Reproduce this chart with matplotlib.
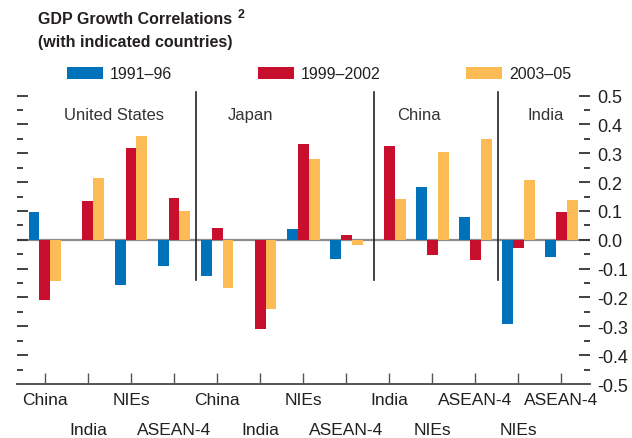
import numpy as np
import matplotlib.pyplot as plt

# GDP growth correlations, three periods, 13 country pairs
labels = ["China", "India", "NIEs", "ASEAN-4",
          "China", "India", "NIEs", "ASEAN-4",
          "India", "NIEs", "ASEAN-4",
          "NIEs", "ASEAN-4"]
periods = ["1991\u201396", "1999\u20132002", "2003\u201305"]
p1991 = [0.095, 0.0, -0.157, -0.091,
         -0.126, 0.0, 0.037, -0.067,
         0.0, 0.183, 0.079,
         -0.293, -0.060]
p1999 = [-0.209, 0.134, 0.318, 0.145,
         0.040, -0.310, 0.332, 0.016,
         0.325, -0.053, -0.071,
         -0.029, 0.096]
p2003 = [-0.143, 0.214, 0.360, 0.100,
         -0.168, -0.240, 0.280, -0.017,
         0.141, 0.304, 0.350,
         0.207, 0.138]
regions = ["United States", "Japan", "China", "India"]
region_x = [1.60, 4.77, 8.70, 11.63]
dividers = [3.5, 7.65, 10.53]
yticks = [-0.5, -0.4, -0.3, -0.2, -0.1, 0.0, 0.1, 0.2, 0.3, 0.4, 0.5]

colors = ["#0072bc", "#c8102e", "#fdbb55"]
plt.rcParams["font.family"] = ["Liberation Sans", "DejaVu Sans"]
txt = "#231f20"

fig = plt.figure(figsize=(6.32, 4.39), dpi=100)
ax = fig.add_axes([0.0269, 0.123, 0.9066, 0.672])

x = np.arange(len(labels))
w = 0.255
for i, (vals, c, name) in enumerate(zip([p1991, p1999, p2003], colors, periods)):
    ax.bar(x + (i - 1) * w, vals, w, color=c, label=name, zorder=2)

ax.axhline(0, color="#8c8c8c", lw=1.6, zorder=1)
for d in dividers:
    ax.plot([d, d], [-0.14, 0.513], color="#222222", lw=1.2, zorder=3)

for name, rx in zip(regions, region_x):
    ax.text(rx, 0.433, name, ha="center", va="center", fontsize=12,
            color="#333333")

ax.set_xlim(-0.65, 12.67)
ax.set_ylim(-0.5, 0.523)

# two rows of category labels: even ones on major ticks, odd ones on minor
ax.set_xticks(x[::2])
ax.set_xticklabels(labels[::2], fontsize=12.5, color=txt)
ax.set_xticks(x[1::2], minor=True)
ax.set_xticklabels(labels[1::2], minor=True, fontsize=12.5, color=txt)
ax.tick_params(axis="x", which="major", direction="in", length=8, width=1,
               color="#555555", pad=6)
ax.tick_params(axis="x", which="minor", direction="in", length=8, width=1,
               color="#555555", pad=27.5)

ax.set_yticks(yticks)
ax.set_yticks(np.arange(-0.45, 0.5, 0.1), minor=True)
ax.tick_params(axis="y", which="major", direction="in", length=8, width=1.3,
               color="#333333", left=True, right=True, labelleft=False,
               labelright=True, labelsize=13, labelcolor=txt, pad=5)
ax.tick_params(axis="y", which="minor", direction="in", length=4, width=1.3,
               color="#333333", left=True, right=True)
ax.set_yticklabels(["%.1f" % v for v in yticks])

for s in ["left", "right", "top"]:
    ax.spines[s].set_visible(False)
ax.spines["bottom"].set_color("#555555")
ax.spines["bottom"].set_linewidth(1.4)

fig.text(38 / 632, 1 - 20 / 439, "GDP Growth Correlations", fontsize=11.5,
         fontweight="bold", color=txt, va="center")
fig.text(238 / 632, 1 - 15 / 439, "2", fontsize=9, fontweight="bold",
         color=txt, va="center")
fig.text(38 / 632, 1 - 42 / 439, "(with indicated countries)", fontsize=11.5,
         fontweight="bold", color=txt, va="center")

ax.legend(loc="center left", bbox_to_anchor=(67 / 632, 1 - 75 / 439),
          bbox_transform=fig.transFigure, ncol=3, frameon=False,
          fontsize=11.5, handlelength=2.26, handleheight=0.8, columnspacing=5.35,
          handletextpad=0.44, borderpad=0, borderaxespad=0, labelcolor=txt)

fig.savefig("out.png", dpi=100)
